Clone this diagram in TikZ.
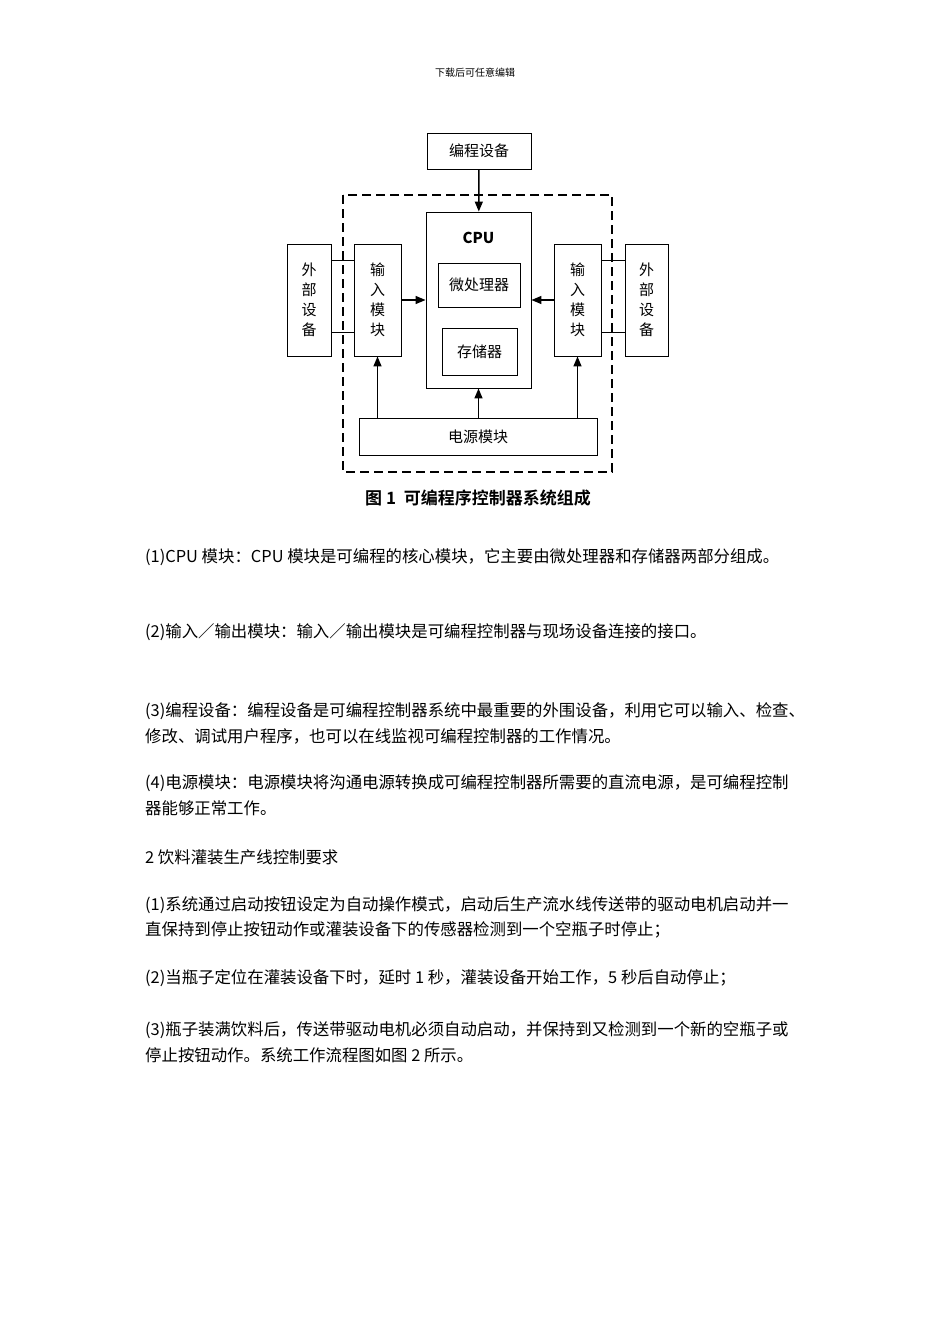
\documentclass[tikz,border=0pt]{standalone}
\usepackage{fontspec}
\setmainfont{Noto Sans CJK SC}
\newfontfamily\cjkb{Noto Sans CJK SC Bold}
\usetikzlibrary{arrows.meta}
\begin{document}
\begin{tikzpicture}[x=1pt,y=-1pt,
  bx/.style={draw,line width=0.9pt,inner sep=0pt},
  lbl/.style={font=\fontsize{15}{18}\selectfont},
  vlbl/.style={font=\fontsize{15}{20}\selectfont,align=center},
  para/.style={anchor=west,inner sep=0pt,font=\fontsize{16.4}{18}\selectfont},
  arr/.style={line width=1.4pt,-{Triangle[length=10pt,width=8pt]}},
  ln/.style={line width=0.9pt}]
\useasboundingbox (0,0) rectangle (950,1344);
\fill[white] (0,0) rectangle (950,1344);
\node[font=\fontsize{10}{12}\selectfont] (hdr) at (475,73) {下载后可任意编辑};
% boxes
\node[bx,minimum width=104pt,minimum height=36pt,lbl] (prog) at (479,151) {编程设备};
\draw[line width=2.2pt,dash pattern=on 9pt off 5pt] (343,195) rectangle (612,472);
\node[bx,minimum width=105pt,minimum height=176pt] (cpu) at (478.5,300) {};
\node[font=\bfseries\fontsize{15}{18}\selectfont] (cpul) at (478.5,238) {CPU};
\node[bx,minimum width=82pt,minimum height=44pt,lbl] (mp) at (479,285) {微处理器};
\node[bx,minimum width=75pt,minimum height=47pt,lbl] (mem) at (479.5,351.5) {存储器};
\node[bx,minimum width=47pt,minimum height=112pt,vlbl] (inl) at (377.5,300) {输\\入\\模\\块};
\node[bx,minimum width=47pt,minimum height=112pt,vlbl] (inr) at (577.5,300) {输\\入\\模\\块};
\node[bx,minimum width=44pt,minimum height=112pt,vlbl] (exl) at (309,300) {外\\部\\设\\备};
\node[bx,minimum width=43pt,minimum height=112pt,vlbl] (exr) at (646.5,300) {外\\部\\设\\备};
\node[bx,minimum width=238pt,minimum height=37pt,lbl] (pwr) at (478,436.5) {电源模块};
\node[font=\cjkb\fontsize{17}{20}\selectfont] (cap) at (478,498) {图 1\ \ 可编程序控制器系统组成};
% connectors
\draw[arr] (prog) -- (cpu);
\draw[arr] (inl) -- (cpu);
\draw[arr] (inr) -- (cpu);
\draw[arr] (pwr.north -| cpu) -- (cpu.south);
\draw[arr] (pwr.north -| inl) -- (inl.south);
\draw[arr] (pwr.north -| inr) -- (inr.south);
\draw[ln] (exl.east |- 0,260) -- (inl.west |- 0,260);
\draw[ln] (exl.east |- 0,332) -- (inl.west |- 0,332);
\draw[ln] (exr.west |- 0,260) -- (inr.east |- 0,260);
\draw[ln] (exr.west |- 0,332) -- (inr.east |- 0,332);
% paragraphs
\node[para] (p1) at (145,557) {(1)CPU 模块：CPU 模块是可编程的核心模块，它主要由微处理器和存储器两部分组成。};
\node[para] (p2) at (145,632) {(2)输入／输出模块：输入／输出模块是可编程控制器与现场设备连接的接口。};
\node[para] (p3a) at (145,711) {(3)编程设备：编程设备是可编程控制器系统中最重要的外围设备，利用它可以输入、检查、};
\node[para] (p3b) at (145,736) {修改、调试用户程序，也可以在线监视可编程控制器的工作情况。};
\node[para] (p4a) at (145,783) {(4)电源模块：电源模块将沟通电源转换成可编程控制器所需要的直流电源，是可编程控制};
\node[para] (p4b) at (145,808) {器能够正常工作。};
\node[para] (h2) at (145,857) {2 饮料灌装生产线控制要求};
\node[para] (q1a) at (145,905) {(1)系统通过启动按钮设定为自动操作模式，启动后生产流水线传送带的驱动电机启动并一};
\node[para] (q1b) at (145,930) {直保持到停止按钮动作或灌装设备下的传感器检测到一个空瓶子时停止；};
\node[para] (q2) at (145,978) {(2)当瓶子定位在灌装设备下时，延时 1 秒，灌装设备开始工作，5 秒后自动停止；};
\node[para] (q3a) at (145,1030) {(3)瓶子装满饮料后，传送带驱动电机必须自动启动，并保持到又检测到一个新的空瓶子或};
\node[para] (q3b) at (145,1055) {停止按钮动作。系统工作流程图如图 2 所示。};
\end{tikzpicture}
\end{document}
